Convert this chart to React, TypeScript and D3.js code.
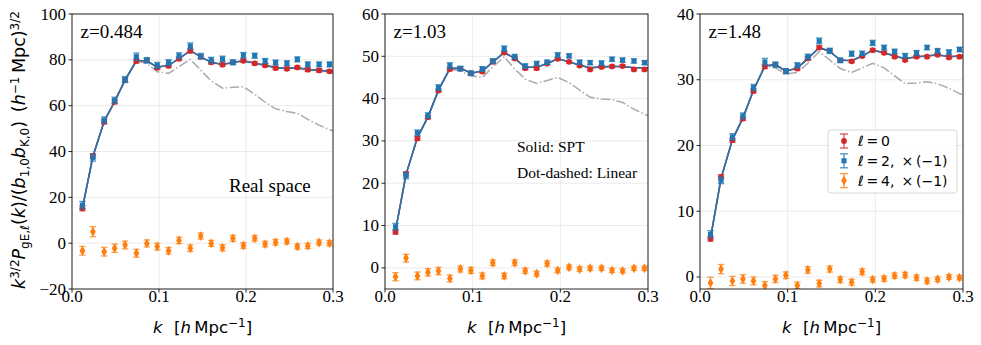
import * as d3 from "d3";
import React from "react";

// k bins (h/Mpc)
const kBins = [0.012, 0.024, 0.037, 0.049, 0.061, 0.074, 0.086, 0.098, 0.111, 0.123, 0.136, 0.148,
  0.160, 0.173, 0.185, 0.197, 0.210, 0.222, 0.234, 0.247, 0.259, 0.271, 0.284, 0.296];
const kModel = [...kBins, 0.3];

// z = 0.484
const mono048 = [15.2, 38.0, 53.0, 61.7, 71.2, 79.5, 79.8, 76.6, 77.4, 80.5, 83.9, 81.4, 78.9, 77.9, 78.9, 79.6, 78.5, 77.6, 76.4, 76.1, 76.7, 75.7, 75.4, 75.0];
const quad048 = [16.6, 37.3, 53.7, 62.4, 71.4, 81.4, 79.8, 77.6, 78.8, 81.8, 86.0, 81.6, 79.9, 80.4, 78.9, 82.0, 81.8, 79.5, 78.8, 78.5, 80.2, 78.0, 78.0, 78.0];
const hexa048 = [-3.3, 5.0, -3.7, -2.2, -0.8, -4.4, -0.1, -1.5, -3.3, 1.2, -2.2, 3.1, -0.1, -2.0, 2.1, -1.0, 2.1, -0.4, 0.4, 0.8, -1.5, -1.2, 0.3, 0.0];
const monoErr048 = [1.1, 1.0, 1.0, 0.9, 0.9, 0.9, 0.8, 0.8, 0.8, 0.8, 0.8, 0.8, 0.7, 0.7, 0.7, 0.7, 0.7, 0.7, 0.7, 0.7, 0.7, 0.7, 0.7, 0.7];
const quadErr048 = [1.6, 1.5, 1.4, 1.3, 1.3, 1.6, 1.2, 1.3, 1.3, 1.3, 1.4, 1.2, 1.2, 1.2, 1.1, 1.2, 1.1, 1.1, 1.1, 1.1, 1.1, 1.1, 1.1, 1.1];
const hexaErr048 = [1.9, 2.2, 1.9, 1.8, 1.7, 1.7, 1.5, 1.5, 1.4, 1.4, 1.4, 1.3, 1.3, 1.3, 1.3, 1.2, 1.2, 1.2, 1.2, 1.1, 1.1, 1.1, 1.1, 1.1];
const spt048 = [15.3, 37.8, 53.2, 61.8, 71.2, 79.6, 79.6, 76.8, 77.6, 80.5, 84.0, 81.3, 78.9, 78.0, 78.8, 79.6, 78.5, 77.6, 76.6, 76.2, 76.6, 75.7, 75.4, 75.0, 74.8];
const lin048 = [15.3, 37.8, 53.2, 61.8, 71.2, 79.6, 78.5, 74.8, 74.1, 77.0, 80.2, 75.5, 70.8, 67.6, 68.0, 68.3, 65.0, 61.5, 58.6, 57.5, 56.7, 54.0, 51.5, 49.5, 49.0];

// z = 1.03
const mono103 = [8.5, 22.2, 30.6, 35.6, 41.9, 47.0, 47.1, 46.0, 46.4, 48.7, 50.9, 49.5, 47.2, 47.2, 48.3, 49.4, 48.7, 47.8, 46.9, 47.5, 47.6, 47.7, 46.9, 46.9];
const quad103 = [9.7, 21.8, 31.9, 36.0, 42.6, 47.8, 47.1, 46.0, 47.0, 48.9, 51.8, 49.9, 47.7, 48.3, 48.6, 50.3, 50.1, 48.6, 48.5, 48.4, 49.3, 49.1, 48.9, 48.5];
const hexa103 = [-2.1, 2.3, -1.9, -1.05, -0.75, -2.5, -0.27, -0.6, -1.9, 1.2, -1.9, 1.2, -0.7, -1.4, 1.0, -0.6, 0.13, -0.3, -0.1, -0.1, -0.6, -0.7, -0.1, -0.1];
const monoErr103 = [0.5, 0.5, 0.45, 0.4, 0.4, 0.4, 0.4, 0.35, 0.35, 0.35, 0.35, 0.35, 0.35, 0.35, 0.3, 0.3, 0.3, 0.3, 0.3, 0.3, 0.3, 0.3, 0.3, 0.3];
const quadErr103 = [0.8, 0.75, 0.7, 0.65, 0.7, 0.7, 0.55, 0.55, 0.55, 0.55, 0.65, 0.55, 0.5, 0.5, 0.5, 0.55, 0.5, 0.5, 0.5, 0.5, 0.5, 0.5, 0.5, 0.5];
const hexaErr103 = [0.95, 0.9, 0.9, 0.85, 0.85, 0.8, 0.7, 0.7, 0.7, 0.65, 0.65, 0.65, 0.6, 0.6, 0.6, 0.55, 0.55, 0.55, 0.5, 0.5, 0.5, 0.5, 0.5, 0.5];
const spt103 = [8.8, 22.1, 30.8, 35.7, 42.0, 47.1, 47.2, 46.0, 46.5, 48.6, 50.9, 49.5, 47.4, 47.4, 48.3, 49.4, 48.7, 47.9, 47.3, 47.5, 47.6, 47.6, 47.3, 47.3, 47.3];
const lin103 = [8.8, 22.1, 30.8, 35.7, 42.0, 47.1, 46.5, 45.4, 45.0, 47.5, 49.9, 47.0, 44.6, 43.6, 44.3, 45.0, 43.8, 42.0, 40.3, 39.9, 39.8, 39.1, 37.5, 36.3, 36.0];

// z = 1.48
const mono148 = [5.8, 15.2, 20.8, 24.1, 28.3, 32.0, 32.3, 31.3, 31.7, 33.25, 34.9, 34.4, 32.95, 32.8, 33.6, 34.5, 34.1, 33.5, 33.0, 33.5, 33.5, 33.8, 33.4, 33.5];
const quad148 = [6.5, 14.7, 21.3, 24.5, 28.8, 32.7, 32.3, 31.3, 32.2, 33.5, 35.9, 34.4, 32.95, 33.96, 34.0, 35.6, 34.9, 34.3, 33.65, 34.1, 34.9, 34.4, 34.2, 34.6];
const hexa148 = [-0.9, 1.2, -0.6, -0.3, -0.6, -1.3, -0.3, 0.26, -1.3, 1.07, -1.0, 1.2, -0.4, -0.8, 0.8, -0.4, -0.25, 0.2, 0.3, -0.1, -0.6, -0.35, 0.0, -0.1];
const monoErr148 = [0.35, 0.35, 0.3, 0.3, 0.3, 0.3, 0.25, 0.25, 0.25, 0.25, 0.25, 0.25, 0.2, 0.2, 0.2, 0.2, 0.2, 0.2, 0.2, 0.2, 0.2, 0.2, 0.2, 0.2];
const quadErr148 = [0.55, 0.5, 0.5, 0.45, 0.5, 0.55, 0.4, 0.4, 0.4, 0.4, 0.45, 0.4, 0.35, 0.4, 0.35, 0.4, 0.35, 0.35, 0.35, 0.35, 0.35, 0.35, 0.35, 0.35];
const hexaErr148 = [0.85, 0.7, 0.7, 0.65, 0.6, 0.6, 0.55, 0.5, 0.5, 0.5, 0.5, 0.45, 0.45, 0.45, 0.45, 0.4, 0.4, 0.4, 0.4, 0.4, 0.4, 0.35, 0.35, 0.35];
const spt148 = [5.9, 15.0, 20.9, 24.2, 28.4, 32.1, 32.3, 31.3, 31.8, 33.2, 34.9, 34.3, 33.0, 32.9, 33.6, 34.5, 34.1, 33.6, 33.2, 33.5, 33.6, 33.8, 33.5, 33.6, 33.6];
const lin148 = [5.9, 15.0, 20.9, 24.2, 28.4, 32.2, 31.8, 30.9, 31.1, 32.5, 34.3, 33.0, 31.7, 31.1, 31.8, 32.5, 31.8, 30.6, 29.4, 29.5, 29.7, 29.4, 28.7, 27.9, 27.7];

const xTicks = [0, 0.1, 0.2, 0.3];
const xTickLabels = ["0.0", "0.1", "0.2", "0.3"];
const yTicks048 = [-20, 0, 20, 40, 60, 80, 100];
const yTicks103 = [0, 10, 20, 30, 40, 50, 60];
const yTicks148 = [0, 10, 20, 30, 40];
const zLabels = ["z=0.484", "z=1.03", "z=1.48"];

const RED = "#d62728";
const BLUE = "#1f77b4";
const ORANGE = "#ff7f0e";
const SERIF = "'Liberation Serif', 'Times New Roman', serif";
const SANS = "'DejaVu Sans', sans-serif";

const TOP = 14;
const BOTTOM = 289;

const panels = [
  { left: 72, right: 333, yDom: [-20, 100], yTicks: yTicks048, z: zLabels[0],
    mono: mono048, quad: quad048, hexa: hexa048, me: monoErr048, qe: quadErr048, he: hexaErr048, spt: spt048, lin: lin048 },
  { left: 385, right: 648, yDom: [-5, 60], yTicks: yTicks103, z: zLabels[1],
    mono: mono103, quad: quad103, hexa: hexa103, me: monoErr103, qe: quadErr103, he: hexaErr103, spt: spt103, lin: lin103 },
  { left: 700, right: 963, yDom: [-1.83, 40], yTicks: yTicks148, z: zLabels[2],
    mono: mono148, quad: quad148, hexa: hexa148, me: monoErr148, qe: quadErr148, he: hexaErr148, spt: spt148, lin: lin148 },
];

const circle = d3.symbol().type(d3.symbolCircle).size(26)()!;
const square = d3.symbol().type(d3.symbolSquare).size(26)()!;
const diamond = d3.symbol().type(d3.symbolDiamond).size(28)()!;

function ErrSeries({ vals, errs, x, y, color, shape }: any) {
  return (
    <g>
      {vals.map((v: number, i: number) => {
        const cx = x(kBins[i]);
        const y0 = y(v - errs[i]);
        const y1 = y(v + errs[i]);
        return (
          <g key={i}>
            <g stroke={color} strokeWidth={1.3} opacity={0.75}>
              <line x1={cx} x2={cx} y1={y0} y2={y1} />
              <line x1={cx - 3.2} x2={cx + 3.2} y1={y0} y2={y0} />
              <line x1={cx - 3.2} x2={cx + 3.2} y1={y1} y2={y1} />
            </g>
            <path d={shape} transform={`translate(${cx},${y(v)})`} fill={color} />
          </g>
        );
      })}
    </g>
  );
}

function Panel({ p }: any) {
  const x = d3.scaleLinear().domain([0, 0.3]).range([p.left, p.right]);
  const y = d3.scaleLinear().domain(p.yDom).range([BOTTOM, TOP]);
  const line = (vals: number[]) =>
    d3.line<number>().x((_, i) => x(kModel[i])).y((d) => y(d))(vals)!;
  const clipId = `clip${p.left}`;
  return (
    <g>
      <defs>
        <clipPath id={clipId}>
          <rect x={p.left} y={TOP} width={p.right - p.left} height={BOTTOM - TOP} />
        </clipPath>
      </defs>
      {/* grid */}
      <g stroke="#e6e6e6" strokeWidth={0.8}>
        {xTicks.map((t) => (
          <line key={t} x1={x(t)} x2={x(t)} y1={TOP} y2={BOTTOM} />
        ))}
        {p.yTicks.map((t: number) => (
          <line key={t} x1={p.left} x2={p.right} y1={y(t)} y2={y(t)} />
        ))}
      </g>
      <g clipPath={`url(#${clipId})`}>
        <path d={line(p.lin)} fill="none" stroke="#aaaaaa" strokeWidth={1.5} strokeDasharray="9.6,2.4,1.5,2.4" />
        <path d={line(p.spt)} fill="none" stroke={RED} strokeWidth={1.6} />
        <path d={line(p.spt)} fill="none" stroke={BLUE} strokeWidth={1.6} />
        <ErrSeries vals={p.mono} errs={p.me} x={x} y={y} color={RED} shape={circle} />
        <ErrSeries vals={p.quad} errs={p.qe} x={x} y={y} color={BLUE} shape={square} />
        <ErrSeries vals={p.hexa} errs={p.he} x={x} y={y} color={ORANGE} shape={diamond} />
      </g>
      {/* frame */}
      <rect x={p.left} y={TOP} width={p.right - p.left} height={BOTTOM - TOP} fill="none" stroke="#111" strokeWidth={0.9} />
      {/* x ticks */}
      {xTicks.map((t, i) => (
        <g key={t}>
          <line x1={x(t)} x2={x(t)} y1={BOTTOM} y2={BOTTOM + 3.5} stroke="#111" strokeWidth={0.9} />
          <text x={x(t)} y={BOTTOM + 13} textAnchor="middle" fontFamily={SERIF} fontSize={17}>
            {xTickLabels[i]}
          </text>
        </g>
      ))}
      {/* y ticks */}
      {p.yTicks.map((t: number) => (
        <g key={t}>
          <line x1={p.left - 3.5} x2={p.left} y1={y(t)} y2={y(t)} stroke="#111" strokeWidth={0.9} />
          <text x={p.left - 6} y={y(t) + 5.5} textAnchor="end" fontFamily={SERIF} fontSize={17}>
            {t < 0 ? `\u2212${-t}` : `${t}`}
          </text>
        </g>
      ))}
      <text x={p.left + 8.5} y={37.5} fontFamily={SERIF} fontSize={19}>{p.z}</text>
      {/* x label */}
      <text x={(p.left + p.right) / 2} y={333} textAnchor="middle" fontFamily={SANS} fontSize={16.5}>
        <tspan fontStyle="italic">k</tspan>
        <tspan>{"\u2002\u2009["}</tspan>
        <tspan fontStyle="italic">h</tspan>
        <tspan>{"\u2009Mpc"}</tspan>
        <tspan dy={-6} fontSize={12}>{"\u22121"}</tspan>
        <tspan dy={6}>]</tspan>
      </text>
    </g>
  );
}

function Legend() {
  const lx = 828, ly = 130, w = 129, h = 63;
  const rows = [
    { color: RED, shape: circle, label: "0", extra: "" },
    { color: BLUE, shape: square, label: "2,", extra: "\u2002\u00d7\u2009(\u22121)" },
    { color: ORANGE, shape: diamond, label: "4,", extra: "\u2002\u00d7\u2009(\u22121)" },
  ];
  return (
    <g>
      <rect x={lx} y={ly} width={w} height={h} rx={3} fill="white" fillOpacity={0.8} stroke="#cccccc" strokeWidth={0.8} />
      {rows.map((r, i) => {
        const cy = ly + 11 + i * 19.8;
        return (
          <g key={i}>
            <g stroke={r.color} strokeWidth={1.3} opacity={0.8}>
              <line x1={844} x2={844} y1={cy - 7} y2={cy + 7} />
              <line x1={840} x2={848} y1={cy - 7} y2={cy - 7} />
              <line x1={840} x2={848} y1={cy + 7} y2={cy + 7} />
            </g>
            <path d={r.shape} transform={`translate(844,${cy})`} fill={r.color} />
            <text x={858} y={cy + 5} fontFamily={SANS} fontSize={14}>
              <tspan fontStyle="italic">ℓ</tspan>
              <tspan>{`\u2009=\u2009${r.label}${r.extra}`}</tspan>
            </text>
          </g>
        );
      })}
    </g>
  );
}

export default function App() {
  return (
    <svg width={981} height={345} style={{ position: "absolute", left: 0, top: 0, background: "white" }}>
      {panels.map((p, i) => (
        <Panel key={i} p={p} />
      ))}
      <text transform="translate(25,150) rotate(-90)" textAnchor="middle" fontFamily={SANS} fontSize={17.5}>
        <tspan fontStyle="italic">k</tspan>
        <tspan dy={-6.5} fontSize={12}>3/2</tspan>
        <tspan dy={6.5} fontStyle="italic">P</tspan>
        <tspan dy={4} fontSize={12}>gE,</tspan>
        <tspan fontSize={12} fontStyle="italic">ℓ</tspan>
        <tspan dy={-4}>(</tspan>
        <tspan fontStyle="italic">k</tspan>
        <tspan>)/(</tspan>
        <tspan fontStyle="italic">b</tspan>
        <tspan dy={4} fontSize={12}>1,0</tspan>
        <tspan dy={-4} fontStyle="italic">b</tspan>
        <tspan dy={4} fontSize={12}>K,0</tspan>
        <tspan dy={-4}>{")\u2002("}</tspan>
        <tspan fontStyle="italic">h</tspan>
        <tspan dy={-6.5} fontSize={12}>{"\u22121"}</tspan>
        <tspan dy={6.5}>{"\u2009Mpc)"}</tspan>
        <tspan dy={-6.5} fontSize={12}>3/2</tspan>
      </text>
      <text x={229} y={192} fontFamily={SERIF} fontSize={19}>Real space</text>
      <text x={517} y={152} fontFamily={SERIF} fontSize={15.5}>Solid: SPT</text>
      <text x={517} y={178} fontFamily={SERIF} fontSize={15.5}>Dot-dashed: Linear</text>
      <Legend />
    </svg>
  );
}
